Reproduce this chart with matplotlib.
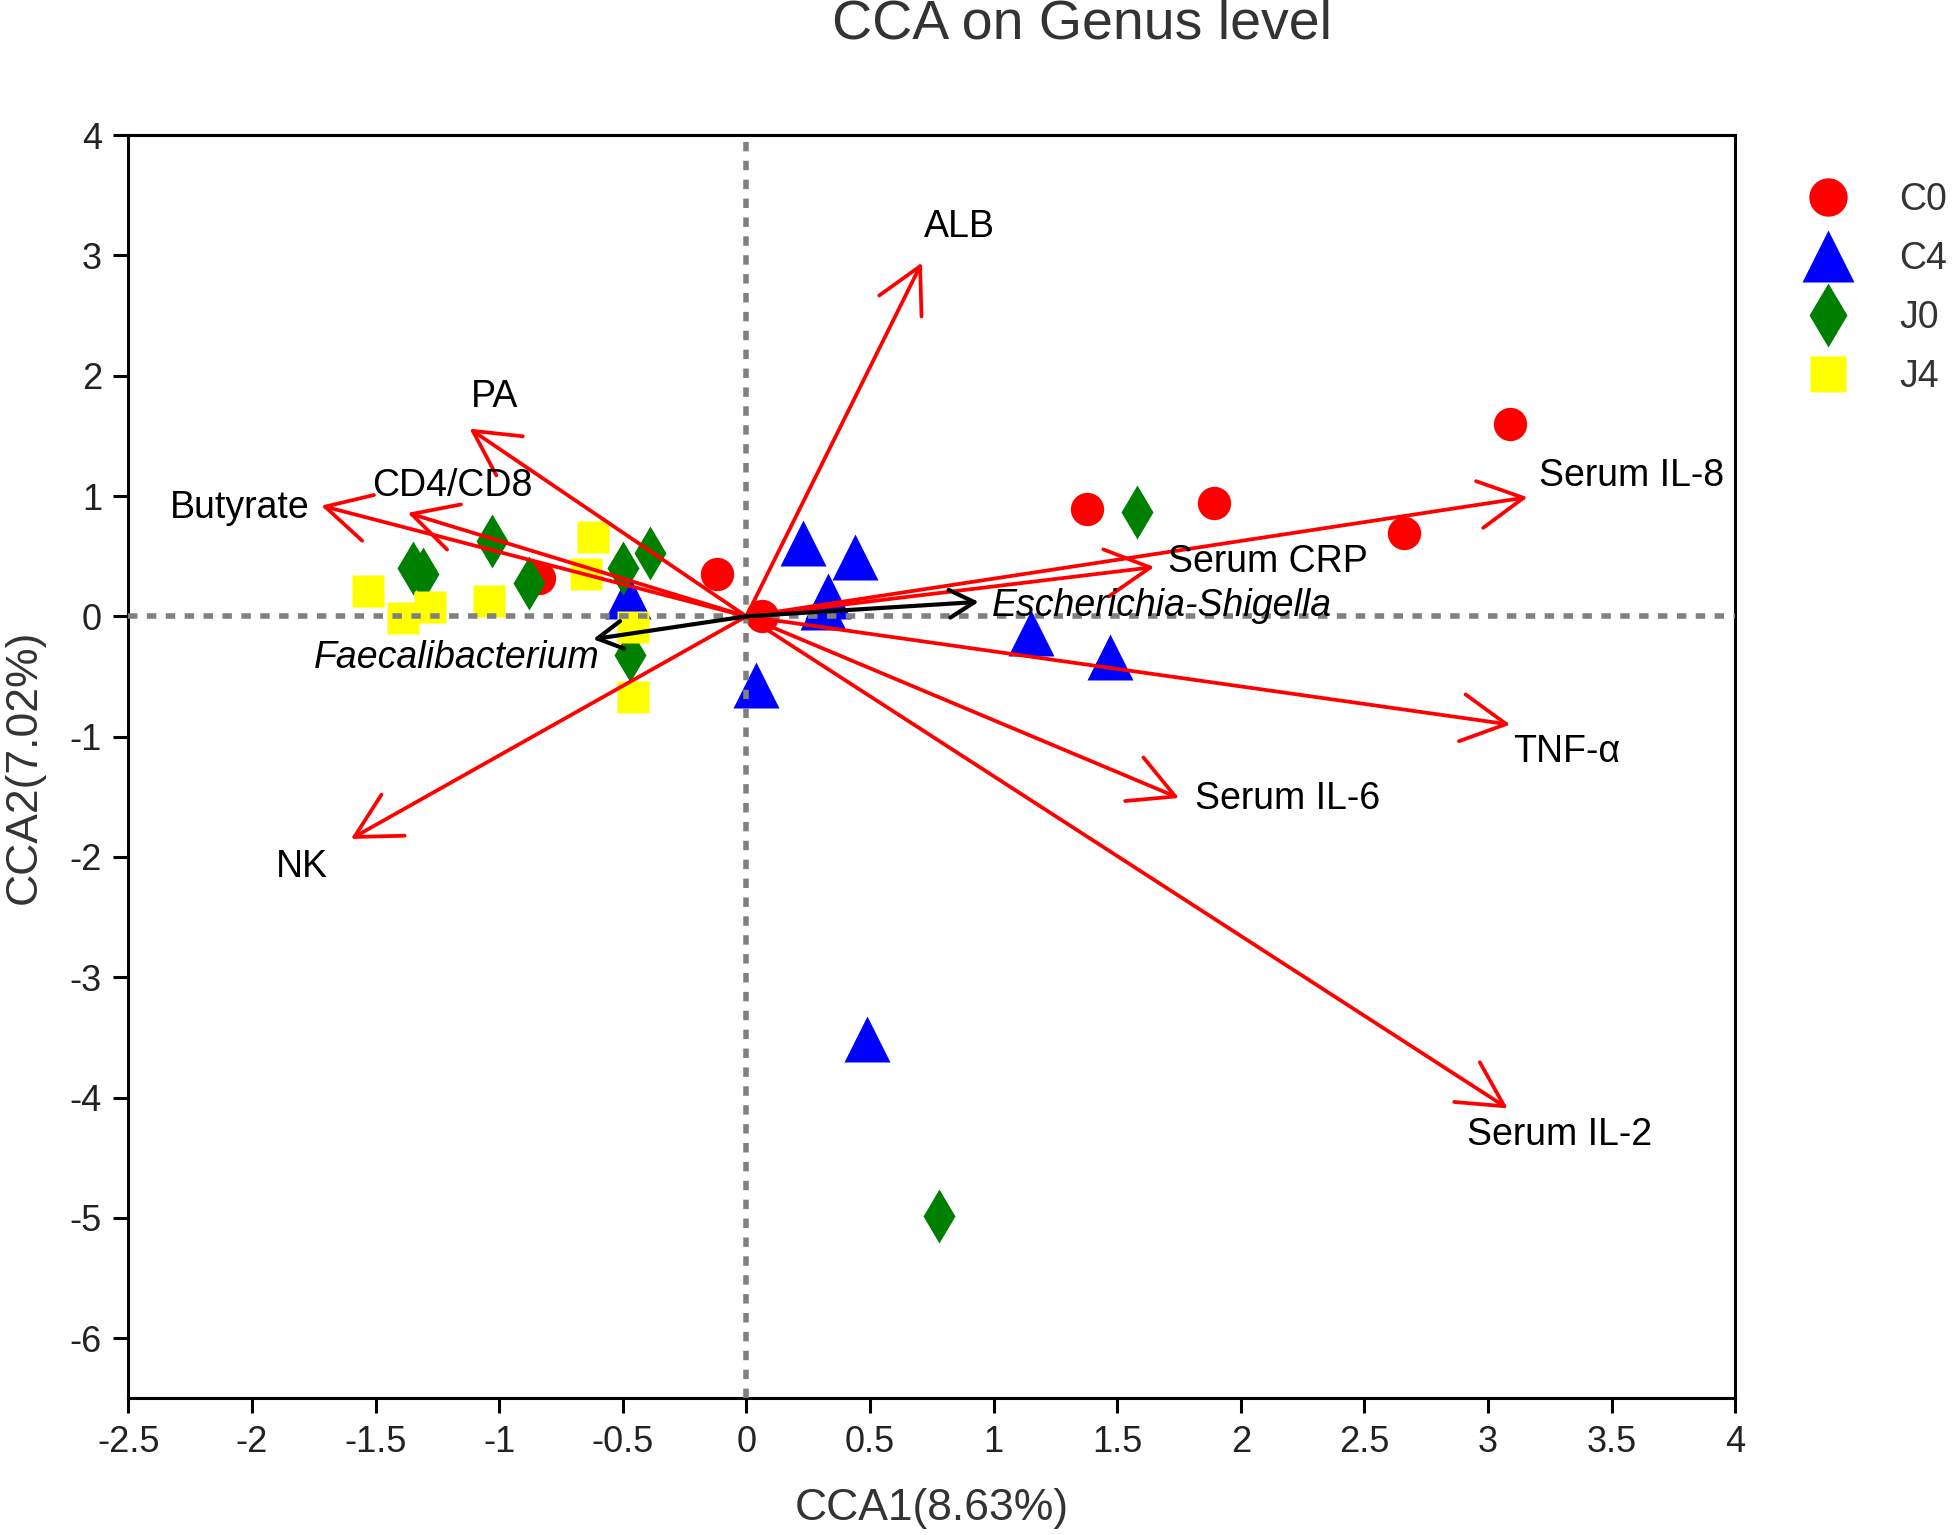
import numpy as np
import matplotlib
matplotlib.use("Agg")
import matplotlib.pyplot as plt

plt.rcParams['font.family'] = ['Liberation Sans', 'DejaVu Sans']
plt.rcParams['axes.unicode_minus'] = False

# sample scores per group
c0_x = [3.09, 1.89, 1.38, 2.66, -0.12, 0.065, -0.84]
c0_y = [1.60, 0.94, 0.89, 0.69, 0.35, 0.00, 0.32]
c4_x = [0.23, 0.44, 0.33, 0.31, -0.48, 1.15, 1.47, 0.04, 0.49]
c4_y = [0.61, 0.49, 0.17, 0.08, 0.17, -0.14, -0.34, -0.57, -3.51]
j0_x = [-1.35, -1.31, -1.03, -0.88, -0.50, -0.39, -0.47, 1.58, 0.78]
j0_y = [0.40, 0.35, 0.63, 0.28, 0.40, 0.53, -0.32, 0.87, -4.98]
j4_x = [-1.53, -1.39, -1.28, -1.04, -0.65, -0.62, -0.46, -0.46]
j4_y = [0.21, -0.01, 0.08, 0.13, 0.35, 0.66, -0.09, -0.67]

# environmental factor vectors
env_names = ['ALB', 'PA', 'CD4/CD8', 'Butyrate', 'NK', 'Serum IL-8',
             'Serum CRP', 'TNF-α', 'Serum IL-6', 'Serum IL-2']
env_x = [0.71, -1.12, -1.37, -1.72, -1.60, 3.16, 1.65, 3.09, 1.75, 3.08]
env_y = [2.94, 1.56, 0.86, 0.92, -1.85, 0.99, 0.41, -0.90, -1.51, -4.09]

# genus vectors
gen_names = ['Escherichia-Shigella', 'Faecalibacterium']
gen_x = [0.94, -0.62]
gen_y = [0.12, -0.19]

# label placement
env_lab_x = [0.86, -1.02, -1.19, -2.05, -1.80, 3.58, 2.11, 3.32, 2.19, 3.29]
env_lab_y = [3.24, 1.82, 1.08, 0.90, -2.08, 1.17, 0.45, -1.13, -1.52, -4.31]
gen_lab_x = [1.68, -1.17]
gen_lab_y = [0.09, -0.35]

fig = plt.figure(figsize=(19.54, 15.35), dpi=100)
ax = fig.add_axes([0.0657, 0.089, 0.8223, 0.823])

ax.plot(c0_x, c0_y, 'o', color='red', ms=24, mec='none', label='C0', zorder=2)
ax.plot(c4_x, c4_y, '^', color='blue', ms=33, mec='none', label='C4', zorder=2)
ax.plot(j0_x, j0_y, 'd', color='green', ms=28, mec='none', label='J0', zorder=2)
ax.plot(j4_x, j4_y, 's', color='yellow', ms=23, mec='none', label='J4', zorder=2)

ax.axhline(0, color='#808080', lw=4, ls=(0, (1.7, 1.7)), zorder=3)
ax.axvline(0, color='#808080', lw=4, ls=(0, (1.7, 1.7)), zorder=3)

for i in range(len(env_names)):
    ax.annotate('', xy=(env_x[i], env_y[i]), xytext=(0, 0),
                arrowprops=dict(arrowstyle='->,head_length=1.6,head_width=0.85',
                                color='red', lw=2.7, mutation_scale=20,
                                shrinkA=0, shrinkB=0), zorder=4)
    ax.text(env_lab_x[i], env_lab_y[i], env_names[i], fontsize=27,
            ha='center', va='center', zorder=5)

for i in range(len(gen_names)):
    ax.annotate('', xy=(gen_x[i], gen_y[i]), xytext=(0, 0),
                arrowprops=dict(arrowstyle='->,head_length=0.9,head_width=0.5',
                                color='black', lw=3.0, mutation_scale=20,
                                shrinkA=0, shrinkB=0), zorder=4)
    ax.text(gen_lab_x[i], gen_lab_y[i], gen_names[i], fontsize=27,
            style='italic', ha='center', va='center', zorder=5)

ax.set_xlim(-2.5, 4)
ax.set_ylim(-6.5, 4)
ax.set_xticks(np.arange(-2.5, 4.01, 0.5))
ax.set_xticklabels(['-2.5', '-2', '-1.5', '-1', '-0.5', '0', '0.5', '1',
                    '1.5', '2', '2.5', '3', '3.5', '4'])
ax.set_yticks(np.arange(-6, 4.01, 1))
ax.set_yticklabels(['-6', '-5', '-4', '-3', '-2', '-1', '0', '1', '2', '3', '4'])
ax.tick_params(direction='out', length=11, width=2.2, labelsize=26, pad=8,
               colors='black', labelcolor='#222222')
for sp in ax.spines.values():
    sp.set_linewidth(2.2)

ax.set_xlabel('CCA1(8.63%)', fontsize=32, color='#333333', labelpad=20)
ax.set_ylabel('CCA2(7.02%)', fontsize=32, color='#333333', labelpad=18)
fig.text(0.5536, 0.984, 'CCA on Genus level', fontsize=40, color='#333333',
         ha='center', va='center')

ax.legend(loc='upper left', bbox_to_anchor=(1.025, 0.975), frameon=False,
          fontsize=27, labelspacing=0.62, handletextpad=0.9, markerscale=1.15,
          labelcolor='#333333', borderaxespad=0)

fig.savefig('out.png', dpi=100)
